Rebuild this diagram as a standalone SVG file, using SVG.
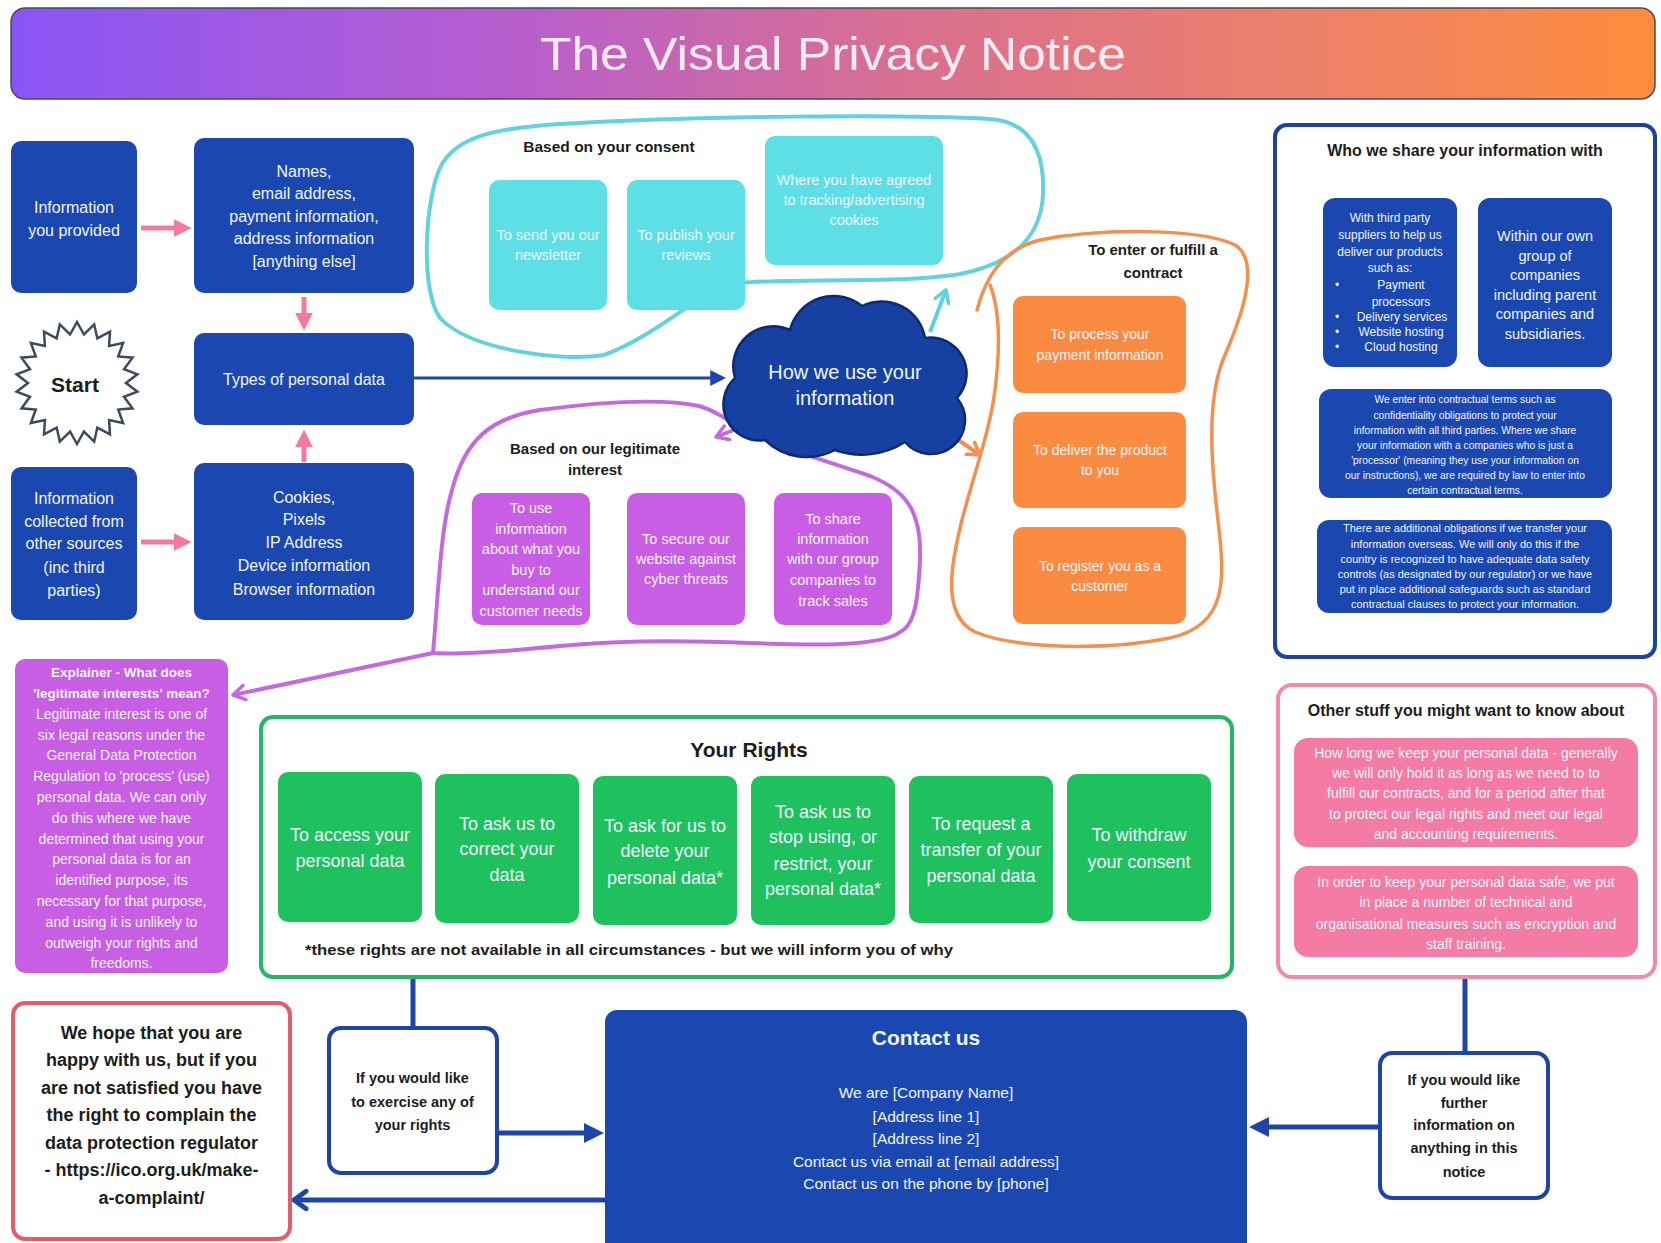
<svg xmlns="http://www.w3.org/2000/svg" width="1661" height="1243" viewBox="0 0 1661 1243">
<style>
text{font-family:"Liberation Sans",Arial,sans-serif;text-anchor:middle}
.bb{fill:#1b48b0}
.w{fill:#f2f5ff}
.lbl{fill:#1c1c1c;font-weight:700}
.cy{fill:#5ddfe5}
.pu{fill:#c75ee4}
.or{fill:#fb8b40}
.gr{fill:#1ec15d}
.pk{fill:#f47ba3}
.ob{fill:#fff;stroke:#1d45a6;stroke-width:4}
.pl{stroke:#f27a9c;stroke-width:5;fill:none}
.bl{stroke:#1d46a8;fill:none}
.loop{fill:none;stroke-linecap:round;stroke-linejoin:round}
</style>
<defs>
<linearGradient id="tg" x1="0" y1="0" x2="1" y2="0">
<stop offset="0" stop-color="#8a55f6"/>
<stop offset="0.3" stop-color="#b75ecf"/>
<stop offset="0.55" stop-color="#d9708f"/>
<stop offset="0.8" stop-color="#ee8168"/>
<stop offset="1" stop-color="#ff8c3c"/>
</linearGradient>
<marker id="mPink" viewBox="0 0 10 10" refX="3" refY="5" markerWidth="18" markerHeight="18" orient="auto" markerUnits="userSpaceOnUse"><path d="M0,0 L10,5 L0,10 Z" fill="#f27a9c"/></marker>
<marker id="mBlue" viewBox="0 0 10 10" refX="3" refY="5" markerWidth="16" markerHeight="16" orient="auto" markerUnits="userSpaceOnUse"><path d="M0,0 L10,5 L0,10 Z" fill="#1d46a8"/></marker>
<marker id="mBlueL" viewBox="0 0 10 10" refX="3" refY="5" markerWidth="20" markerHeight="20" orient="auto" markerUnits="userSpaceOnUse"><path d="M0,0 L10,5 L0,10 Z" fill="#1d46a8"/></marker>
<marker id="cBlue" viewBox="0 0 10 10" refX="8.5" refY="5" markerWidth="22" markerHeight="22" orient="auto" markerUnits="userSpaceOnUse"><path d="M3,1 L8.5,5 L3,9" fill="none" stroke="#1d46a8" stroke-width="2.2" stroke-linecap="round" stroke-linejoin="round"/></marker>
<marker id="cCyan" viewBox="0 0 10 10" refX="8.5" refY="5" markerWidth="18" markerHeight="18" orient="auto" markerUnits="userSpaceOnUse"><path d="M2,1 L8.5,5 L2,9" fill="none" stroke="#5fd3dc" stroke-width="2" stroke-linecap="round" stroke-linejoin="round"/></marker>
<marker id="cPurple" viewBox="0 0 10 10" refX="8.5" refY="5" markerWidth="18" markerHeight="18" orient="auto" markerUnits="userSpaceOnUse"><path d="M2,1 L8.5,5 L2,9" fill="none" stroke="#c46ae0" stroke-width="2" stroke-linecap="round" stroke-linejoin="round"/></marker>
<marker id="cOrange" viewBox="0 0 10 10" refX="8.5" refY="5" markerWidth="18" markerHeight="18" orient="auto" markerUnits="userSpaceOnUse"><path d="M2,1 L8.5,5 L2,9" fill="none" stroke="#f29050" stroke-width="2" stroke-linecap="round" stroke-linejoin="round"/></marker>
</defs>
<rect width="1661" height="1243" fill="#ffffff"/>

<g id="title">
<rect x="11" y="8" width="1644" height="91" rx="14" fill="url(#tg)" stroke="#4a4a5a" stroke-width="1.5"/>
<text x="833" y="70" font-family="'Open Sans','Liberation Sans',sans-serif" font-size="46" fill="#fbe9f3" textLength="586" lengthAdjust="spacingAndGlyphs">The Visual Privacy Notice</text>
</g>

<g id="loops">
<path id="consent-loop" class="loop" stroke="#62d3dc" stroke-width="4" d="M 604,355 C 560,362 470,350 440,318 C 420,290 425,200 440,168 C 455,135 500,128 560,124 C 700,116 900,114 990,119 C 1030,122 1045,150 1043,195 C 1041,232 1020,262 960,274 C 900,284 790,278 741,283 C 700,288 660,335 604,355 Z"/>
<path id="legit-loop" class="loop" stroke="#c46ae0" stroke-width="4" d="M 433,653 C 438,600 440,530 452,490 C 465,440 490,418 540,410 C 600,402 660,398 699,406 C 720,412 725,420 745,430 C 780,448 830,462 870,476 C 905,490 922,510 920,560 C 918,600 915,625 900,632 C 880,648 800,645 750,643 C 680,640 620,640 560,646 C 500,652 460,655 433,653 Z"/>
<path id="contract-loop" class="loop" stroke="#f29050" stroke-width="3.5" d="M 977,310 C 985,280 1000,250 1040,240 C 1100,228 1200,228 1235,245 C 1262,262 1240,320 1225,355 C 1205,400 1212,470 1218,520 C 1225,580 1228,625 1170,638 C 1110,650 1020,650 975,632 C 940,615 952,560 962,520 C 975,470 990,430 995,390 C 1000,350 1000,310 990,285"/>
</g>

<g id="connectors">
<line class="pl" x1="141" y1="228" x2="179" y2="228" marker-end="url(#mPink)"/>
<line class="pl" x1="304" y1="297" x2="304" y2="318" marker-end="url(#mPink)"/>
<line class="pl" x1="304" y1="462" x2="304" y2="442" marker-end="url(#mPink)"/>
<line class="pl" x1="141" y1="542" x2="179" y2="542" marker-end="url(#mPink)"/>
<line class="bl" stroke-width="3" x1="414" y1="378" x2="715" y2="378" marker-end="url(#mBlue)"/>
<line stroke="#5fd3dc" stroke-width="4" x1="930" y1="332" x2="946" y2="290" marker-end="url(#cCyan)"/>
<line stroke="#c46ae0" stroke-width="4" x1="762" y1="419" x2="716" y2="437" marker-end="url(#cPurple)"/>
<line stroke="#f29050" stroke-width="4" x1="944" y1="430" x2="980" y2="455" marker-end="url(#cOrange)"/>
<line stroke="#c46ae0" stroke-width="4" x1="433" y1="653" x2="233" y2="695" marker-end="url(#cPurple)"/>
<line class="pl" x1="1415" y1="160" x2="1398" y2="183" marker-end="url(#mPink)"/>
<line class="pl" x1="1521" y1="160" x2="1536" y2="182" marker-end="url(#mPink)"/>
<line class="bl" stroke-width="5" x1="413" y1="978" x2="413" y2="1028"/>
<line class="bl" stroke-width="5" x1="497" y1="1133" x2="590" y2="1133" marker-end="url(#mBlueL)"/>
<line class="bl" stroke-width="5" x1="605" y1="1200" x2="294" y2="1200" marker-end="url(#cBlue)"/>
<line class="bl" stroke-width="5" x1="1465" y1="978" x2="1465" y2="1053"/>
<line class="bl" stroke-width="5" x1="1379" y1="1127" x2="1263" y2="1127" marker-end="url(#mBlueL)"/>
</g>

<g id="info-provided">
<rect class="bb" x="11" y="141" width="126" height="152" rx="10"/>
<text class="w" font-size="16"><tspan x="74" y="212.5">Information</tspan><tspan x="74" y="235.5">you provided</tspan></text>
</g>
<g id="names">
<rect class="bb" x="194" y="138" width="220" height="155" rx="10"/>
<text class="w" font-size="16"><tspan x="304" y="176.5">Names,</tspan><tspan x="304" y="199">email address,</tspan><tspan x="304" y="221.5">payment information,</tspan><tspan x="304" y="244">address information</tspan><tspan x="304" y="266.5">[anything else]</tspan></text>
</g>
<g id="start">
<polygon points="77,322 83.97,334.5 94.18,324.47 97.35,338.43 109.98,331.68 109.09,345.97 123.1,343.05 118.22,356.51 132.49,357.66 124.02,369.2 137.38,374.32 126,383 137.38,391.68 124.02,396.8 132.49,408.34 118.22,409.49 123.1,422.95 109.09,420.03 109.98,434.32 97.35,427.57 94.18,441.53 83.97,431.5 77,444 70.03,431.5 59.82,441.53 56.65,427.57 44.02,434.32 44.91,420.03 30.9,422.95 35.78,409.49 21.51,408.34 29.98,396.8 16.62,391.68 28,383 16.62,374.32 29.98,369.2 21.51,357.66 35.78,356.51 30.9,343.05 44.91,345.97 44.02,331.68 56.65,338.43 59.82,324.47 70.03,334.5" fill="#ffffff" stroke="#3c4a5c" stroke-width="2.5" stroke-linejoin="miter"/>
<text class="lbl" x="75" y="392" font-size="21">Start</text>
</g>
<g id="types">
<rect class="bb" x="194" y="333" width="220" height="92" rx="10"/>
<text class="w" x="304" y="384.5" font-size="16">Types of personal data</text>
</g>
<g id="info-collected">
<rect class="bb" x="11" y="467" width="126" height="153" rx="10"/>
<text class="w" font-size="16"><tspan x="74" y="503.5">Information</tspan><tspan x="74" y="526.5">collected from</tspan><tspan x="74" y="549">other sources</tspan><tspan x="74" y="572.5">(inc third</tspan><tspan x="74" y="595.5">parties)</tspan></text>
</g>
<g id="cookies">
<rect class="bb" x="194" y="463" width="220" height="157" rx="10"/>
<text class="w" font-size="16"><tspan x="304" y="502.5">Cookies,</tspan><tspan x="304" y="525">Pixels</tspan><tspan x="304" y="548">IP Address</tspan><tspan x="304" y="571">Device information</tspan><tspan x="304" y="594.5">Browser information</tspan></text>
</g>

<g id="consent">
<text class="lbl" x="609" y="151.5" font-size="15.5">Based on your consent</text>
<rect class="cy" x="489" y="180" width="118" height="130" rx="10"/>
<text class="w" font-size="14.5"><tspan x="548" y="240">To send you our</tspan><tspan x="548" y="260">newsletter</tspan></text>
<rect class="cy" x="627" y="180" width="118" height="130" rx="10"/>
<text class="w" font-size="14.5"><tspan x="686" y="240">To publish your</tspan><tspan x="686" y="260">reviews</tspan></text>
<rect class="cy" x="765" y="136" width="178" height="129" rx="10"/>
<text class="w" font-size="14.5"><tspan x="854" y="185">Where you have agreed</tspan><tspan x="854" y="205">to tracking/advertising</tspan><tspan x="854" y="225">cookies</tspan></text>
</g>

<g id="legitimate">
<text class="lbl" font-size="15"><tspan x="595" y="453.5">Based on our legitimate</tspan><tspan x="595" y="474.5">interest</tspan></text>
<rect class="pu" x="472" y="493" width="118" height="132" rx="10"/>
<text class="w" font-size="14.5"><tspan x="531" y="513">To use</tspan><tspan x="531" y="534">information</tspan><tspan x="531" y="554">about what you</tspan><tspan x="531" y="575">buy to</tspan><tspan x="531" y="595">understand our</tspan><tspan x="531" y="616">customer needs</tspan></text>
<rect class="pu" x="627" y="493" width="118" height="132" rx="10"/>
<text class="w" font-size="14.5"><tspan x="686" y="544">To secure our</tspan><tspan x="686" y="564">website against</tspan><tspan x="686" y="584">cyber threats</tspan></text>
<rect class="pu" x="774" y="493" width="118" height="132" rx="10"/>
<text class="w" font-size="14.5"><tspan x="833" y="524">To share</tspan><tspan x="833" y="544">information</tspan><tspan x="833" y="564">with our group</tspan><tspan x="833" y="585">companies to</tspan><tspan x="833" y="606">track sales</tspan></text>
</g>

<g id="contract">
<text class="lbl" font-size="15"><tspan x="1153" y="254.5">To enter or fulfill a</tspan><tspan x="1153" y="277.5">contract</tspan></text>
<rect class="or" x="1013" y="296" width="173" height="97" rx="10"/>
<text class="w" font-size="14"><tspan x="1100" y="339">To process your</tspan><tspan x="1100" y="360">payment information</tspan></text>
<rect class="or" x="1013" y="412" width="173" height="96" rx="10"/>
<text class="w" font-size="14"><tspan x="1100" y="455">To deliver the product</tspan><tspan x="1100" y="475">to you</tspan></text>
<rect class="or" x="1013" y="527" width="173" height="97" rx="10"/>
<text class="w" font-size="14"><tspan x="1100" y="571">To register you as a</tspan><tspan x="1100" y="591">customer</tspan></text>
</g>

<g id="cloud">
<path d="M 765,440 A 36,36 0 0 1 735,378 A 40,40 0 0 1 790,330 A 45,45 0 0 1 862,306 A 44,44 0 0 1 925,338 A 36,36 0 0 1 957,398 A 34,34 0 0 1 905,442 A 80,80 0 0 1 835,450 A 60,60 0 0 1 765,440 Z" fill="#1641a2" stroke="#0e2a6e" stroke-width="2.5"/>
<text class="w" font-size="20"><tspan x="845" y="379">How we use your</tspan><tspan x="845" y="405">information</tspan></text>
</g>

<g id="share">
<rect x="1275" y="125" width="380" height="532" rx="12" fill="#ffffff" stroke="#1c42a0" stroke-width="4"/>
<text class="lbl" x="1465" y="155.5" font-size="16">Who we share your information with</text>
<rect class="bb" x="1323" y="198" width="134" height="169" rx="12"/>
<text class="w" font-size="12"><tspan x="1390" y="222">With third party</tspan><tspan x="1390" y="239">suppliers to help us</tspan><tspan x="1390" y="256">deliver our products</tspan><tspan x="1390" y="272">such as:</tspan><tspan x="1401" y="289">Payment</tspan><tspan x="1401" y="306">processors</tspan><tspan x="1402" y="321">Delivery services</tspan><tspan x="1401" y="336">Website hosting</tspan><tspan x="1401" y="351">Cloud hosting</tspan></text>
<text class="w" font-size="12"><tspan x="1337" y="289">•</tspan><tspan x="1337" y="321">•</tspan><tspan x="1337" y="336">•</tspan><tspan x="1337" y="351">•</tspan></text>
<rect class="bb" x="1478" y="198" width="134" height="169" rx="12"/>
<text class="w" font-size="14.5"><tspan x="1545" y="241">Within our own</tspan><tspan x="1545" y="261">group of</tspan><tspan x="1545" y="280">companies</tspan><tspan x="1545" y="300">including parent</tspan><tspan x="1545" y="319">companies and</tspan><tspan x="1545" y="339">subsidiaries.</tspan></text>
<rect class="bb" x="1319" y="389" width="293" height="109" rx="12"/>
<text class="w" font-size="10.3"><tspan x="1465" y="402.6">We enter into contractual terms such as</tspan><tspan x="1465" y="418.6">confidentiality obligations to protect your</tspan><tspan x="1465" y="433.6">information with all third parties. Where we share</tspan><tspan x="1465" y="448.6">your information with a companies who is just a</tspan><tspan x="1465" y="463.6">'processor' (meaning they use your information on</tspan><tspan x="1465" y="478.6">our instructions), we are required by law to enter into</tspan><tspan x="1465" y="493.6">certain contractual terms.</tspan></text>
<rect class="bb" x="1317" y="520" width="295" height="93" rx="12"/>
<text class="w" font-size="11"><tspan x="1465" y="531.8">There are additional obligations if we transfer your</tspan><tspan x="1465" y="547.8">information overseas. We will only do this if the</tspan><tspan x="1465" y="562.8">country is recognized to have  adequate data safety</tspan><tspan x="1465" y="577.8">controls (as designated by our regulator) or we have</tspan><tspan x="1465" y="592.8">put in place additional safeguards such as standard</tspan><tspan x="1465" y="607.8">contractual clauses to protect your information.</tspan></text>
</g>

<g id="explainer">
<rect class="pu" x="15" y="659" width="213" height="314" rx="10"/>
<text class="w" font-size="13.5" font-weight="700"><tspan x="121.5" y="677">Explainer - What does</tspan><tspan x="121.5" y="698">'legitimate interests' mean?</tspan></text>
<text class="w" font-size="14"><tspan x="121.5" y="719">Legitimate interest is one of</tspan><tspan x="121.5" y="740">six legal reasons under the</tspan><tspan x="121.5" y="760">General Data Protection</tspan><tspan x="121.5" y="781">Regulation to 'process' (use)</tspan><tspan x="121.5" y="802">personal data. We can only</tspan><tspan x="121.5" y="823">do this where we have</tspan><tspan x="121.5" y="844">determined that using your</tspan><tspan x="121.5" y="864">personal data is for an</tspan><tspan x="121.5" y="885">identified purpose, its</tspan><tspan x="121.5" y="906">necessary for that purpose,</tspan><tspan x="121.5" y="927">and using it is unlikely to</tspan><tspan x="121.5" y="948">outweigh your rights and</tspan><tspan x="121.5" y="968">freedoms.</tspan></text>
</g>

<g id="rights">
<rect x="261" y="717" width="971" height="260" rx="12" fill="#ffffff" stroke="#22b865" stroke-width="4"/>
<text class="lbl" x="749" y="756.5" font-size="21">Your Rights</text>
<rect class="gr" x="278" y="772" width="144" height="150" rx="10"/>
<text class="w" font-size="18"><tspan x="350" y="841">To access your</tspan><tspan x="350" y="866.5">personal data</tspan></text>
<rect class="gr" x="435" y="774" width="144" height="149" rx="10"/>
<text class="w" font-size="18"><tspan x="507" y="829.5">To ask us to</tspan><tspan x="507" y="855">correct your</tspan><tspan x="507" y="880.5">data</tspan></text>
<rect class="gr" x="593" y="776" width="144" height="149" rx="10"/>
<text class="w" font-size="18"><tspan x="665" y="831.5">To ask for us to</tspan><tspan x="665" y="857">delete your</tspan><tspan x="665" y="883.5">personal data*</tspan></text>
<rect class="gr" x="751" y="776" width="144" height="149" rx="10"/>
<text class="w" font-size="18"><tspan x="823" y="817.5">To ask us to</tspan><tspan x="823" y="843">stop using, or</tspan><tspan x="823" y="869.5">restrict, your</tspan><tspan x="823" y="895">personal data*</tspan></text>
<rect class="gr" x="909" y="776" width="144" height="147" rx="10"/>
<text class="w" font-size="18"><tspan x="981" y="829.5">To request a</tspan><tspan x="981" y="856">transfer of your</tspan><tspan x="981" y="881.5">personal data</tspan></text>
<rect class="gr" x="1067" y="774" width="144" height="147" rx="10"/>
<text class="w" font-size="18"><tspan x="1139" y="841">To withdraw</tspan><tspan x="1139" y="867.5">your consent</tspan></text>
<text class="lbl" x="629" y="955" font-size="15" textLength="648" lengthAdjust="spacingAndGlyphs">*these rights are not available in all circumstances - but we will inform you of why</text>
</g>

<g id="other">
<rect x="1278" y="685" width="377" height="292" rx="14" fill="#ffffff" stroke="#f08aaa" stroke-width="4"/>
<text class="lbl" x="1466" y="715.5" font-size="16">Other stuff you might want to know about</text>
<rect class="pk" x="1294" y="738" width="344" height="109" rx="14"/>
<text class="w" font-size="14"><tspan x="1466" y="758">How long we keep your personal data - generally</tspan><tspan x="1466" y="778">we will only hold it as long as we need to to</tspan><tspan x="1466" y="798">fulfill our contracts, and for a period after that</tspan><tspan x="1466" y="819">to protect our legal rights and meet our legal</tspan><tspan x="1466" y="839">and accounting requirements.</tspan></text>
<rect class="pk" x="1294" y="866" width="344" height="91" rx="14"/>
<text class="w" font-size="14"><tspan x="1466" y="887">In order to keep your personal data safe, we put</tspan><tspan x="1466" y="907">in place a number of technical and</tspan><tspan x="1466" y="929">organisational measures such as encryption and</tspan><tspan x="1466" y="949">staff training.</tspan></text>
</g>

<g id="complaint">
<rect x="13" y="1003" width="277" height="236" rx="12" fill="#ffffff" stroke="#e35d66" stroke-width="4"/>
<text class="lbl" font-size="18"><tspan x="151.5" y="1039.3">We hope that you are</tspan><tspan x="151.5" y="1066.3">happy with us, but if you</tspan><tspan x="151.5" y="1094.3">are not satisfied you have</tspan><tspan x="151.5" y="1121.3">the right to complain the</tspan><tspan x="151.5" y="1149.3">data protection regulator</tspan><tspan x="151.5" y="1176.3">- https://ico.org.uk/make-</tspan><tspan x="151.5" y="1204.3">a-complaint/</tspan></text>
</g>

<g id="exercise">
<rect class="ob" x="329" y="1028" width="168" height="145" rx="12"/>
<text class="lbl" font-size="14.5"><tspan x="412.5" y="1083">If you would like</tspan><tspan x="412.5" y="1107">to exercise any of</tspan><tspan x="412.5" y="1130">your rights</tspan></text>
</g>

<g id="contact">
<rect class="bb" x="605" y="1010" width="642" height="245" rx="12"/>
<text class="w" x="926" y="1044.5" font-size="21" font-weight="700">Contact us</text>
<text class="w" font-size="15.5"><tspan x="926" y="1098.4">We are [Company Name]</tspan><tspan x="926" y="1122.4">[Address line 1]</tspan><tspan x="926" y="1144.4">[Address line 2]</tspan><tspan x="926" y="1167.4">Contact us via email at [email address]</tspan><tspan x="926" y="1189.4">Contact us on the phone by [phone]</tspan></text>
</g>

<g id="further">
<rect class="ob" x="1380" y="1053" width="168" height="145" rx="12"/>
<text class="lbl" font-size="14.5"><tspan x="1464" y="1085">If you would like</tspan><tspan x="1464" y="1108">further</tspan><tspan x="1464" y="1130">information on</tspan><tspan x="1464" y="1153">anything in this</tspan><tspan x="1464" y="1177">notice</tspan></text>
</g>
</svg>
